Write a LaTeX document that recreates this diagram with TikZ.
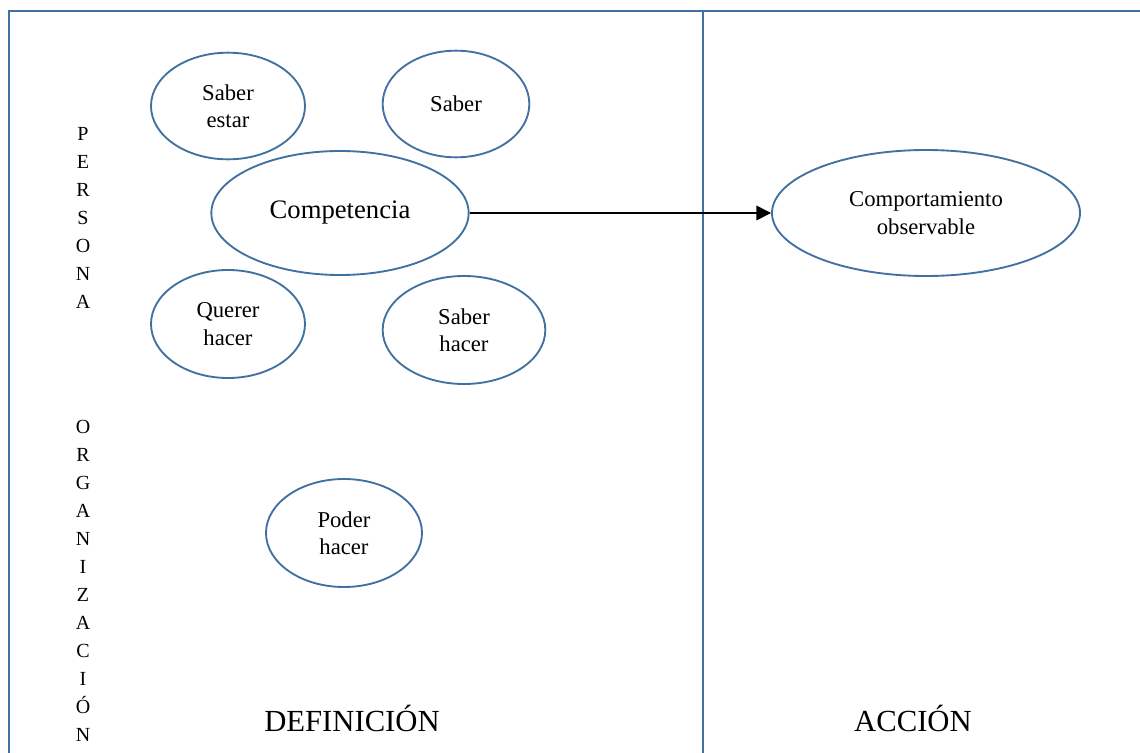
\documentclass[tikz,border=0pt]{standalone}
\usepackage{fontspec}
\setmainfont{Liberation Serif}
\usepackage{tikz}
\usetikzlibrary{arrows.meta,positioning,shapes.geometric}
\definecolor{frameblue}{RGB}{65,113,160}

\tikzset{
  bubble/.style={ellipse, draw=frameblue, line width=1.4pt, inner sep=0pt,
    align=center, font=\fontsize{17}{20.5}\selectfont},
  vletters/.style={align=center, font=\fontsize{15}{21}\selectfont},
  zone/.style={font=\fontsize{23}{26}\selectfont}
}

\begin{document}
\begin{tikzpicture}[x=0.75pt, y=-0.75pt]
        \useasboundingbox (0,0) rectangle (1140,753);
        \clip (0,0) rectangle (1140,753);

        % marco
        \draw[frameblue, line width=1.5pt] (9,780) -- (9,11) -- (1160,11);
        \draw[frameblue, line width=1.5pt] (703,11) -- (703,780);

        % persona / organizacion
        \node[vletters] (persona) at (83,218) {P\\E\\R\\S\\O\\N\\A};
        \node[vletters] (organizacion) at (83,581) {O\\R\\G\\A\\N\\I\\Z\\A\\C\\I\\Ó\\N};

        % elementos de la competencia
        \node[bubble, minimum width=115.5pt, minimum height=80pt] (estar) at (228,106) {Saber\\estar};
        \node[bubble, minimum width=110pt, minimum height=80pt] (saber) at (456,104) {Saber};
        \node[bubble, minimum width=193pt, minimum height=93pt,
              font=\fontsize{20}{24}\selectfont] (comp) at (340,213) {Competencia};
        \node[bubble, minimum width=115.5pt, minimum height=81pt] (querer) at (228,324) {Querer\\hacer};
        \node[bubble, minimum width=122pt, minimum height=81pt] (hacer) at (464,330) {Saber\\hacer};
        \node[bubble, minimum width=117pt, minimum height=81pt] (poder) at (344,533) {Poder\\hacer};

        % accion
        \node[bubble, minimum width=231pt, minimum height=94.5pt] (obs) at (926,213) {Comportamiento\\observable};
        \draw[line width=0.9pt, -{Triangle[length=11pt,width=11pt]}] (comp.east) -- (obs.west);

        \node[zone] (def) at (352,718) {DEFINICIÓN};
        \node[zone] (acc) at (913,718) {ACCIÓN};
    \end{tikzpicture}
\end{document}
